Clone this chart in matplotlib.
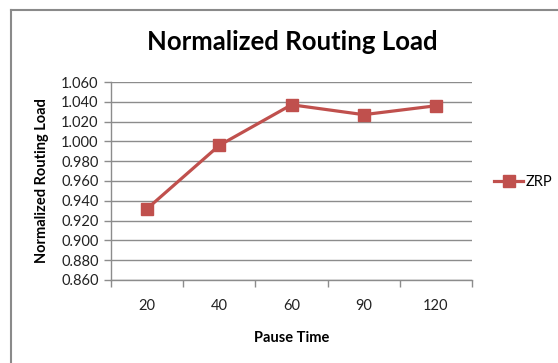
import matplotlib
matplotlib.use("Agg")
import matplotlib.pyplot as plt
from matplotlib.lines import Line2D

categories = ["20", "40", "60", "90", "120"]
zrp = [0.932, 0.996, 1.037, 1.027, 1.036]
yticks = [0.860, 0.880, 0.900, 0.920, 0.940, 0.960, 0.980, 1.000, 1.020, 1.040, 1.060]

RED = "#C0504D"
GRID = "#8C8C8C"
FONT = ["Lato", "DejaVu Sans"]

W, H = 558, 363
fig = plt.figure(figsize=(W / 100, H / 100), dpi=100)
fig.patch.set_facecolor("white")

ax = fig.add_axes([111 / W, 1 - 280 / H, (472 - 111) / W, (280 - 82) / H])
x = list(range(len(categories)))
ax.plot(x, zrp, color=RED, lw=2.3, marker="s", markersize=8,
        markerfacecolor=RED, markeredgecolor=RED, label="ZRP")

ax.set_xlim(-0.5, len(categories) - 0.5)
ax.set_ylim(yticks[0], yticks[-1])
ax.set_yticks(yticks)
ax.set_yticklabels([f"{v:.3f}" for v in yticks], fontsize=10.5, family=FONT, color="#222222")
ax.set_xticks(x)
ax.set_xticklabels(categories, fontsize=10.5, family=FONT, color="#222222")
ax.set_xticks([i - 0.5 for i in range(len(categories) + 1)], minor=True)
ax.tick_params(axis="x", which="major", length=0, pad=14)
ax.tick_params(axis="x", which="minor", length=5, color=GRID, width=1)
ax.tick_params(axis="y", length=5, color=GRID, width=1, pad=4)

ax.grid(axis="y", color=GRID, lw=1)
ax.set_axisbelow(True)
for s in ["top", "right"]:
    ax.spines[s].set_visible(False)
for s in ["left", "bottom"]:
    ax.spines[s].set_color(GRID)
    ax.spines[s].set_linewidth(1)

fig.text(292 / W, 1 - 42 / H, "Normalized Routing Load", ha="center", va="center",
         fontsize=18.5, fontweight="bold", family=FONT)
fig.text(292 / W, 1 - 338 / H, "Pause Time", ha="center", va="center",
         fontsize=10.5, fontweight="bold", family=FONT)
fig.text(42 / W, 1 - 181 / H, "Normalized Routing Load", ha="center", va="center",
         rotation=90, fontsize=10.5, fontweight="bold", family=FONT)

leg = ax.legend(loc="center left", bbox_to_anchor=(494 / W, 1 - 182 / H),
                bbox_transform=fig.transFigure, frameon=False,
                prop={"family": FONT, "size": 10.5}, handlelength=2.0,
                handletextpad=0.2, borderpad=0, borderaxespad=0)

# outer chart border (top and left edges)
fig.add_artist(Line2D([11 / W, 1], [1 - 10 / H, 1 - 10 / H], transform=fig.transFigure,
                      color="#8A8A8A", lw=1.5))
fig.add_artist(Line2D([11 / W, 11 / W], [0, 1 - 10 / H], transform=fig.transFigure,
                      color="#8A8A8A", lw=1.5))

fig.savefig("out.png", dpi=100)
